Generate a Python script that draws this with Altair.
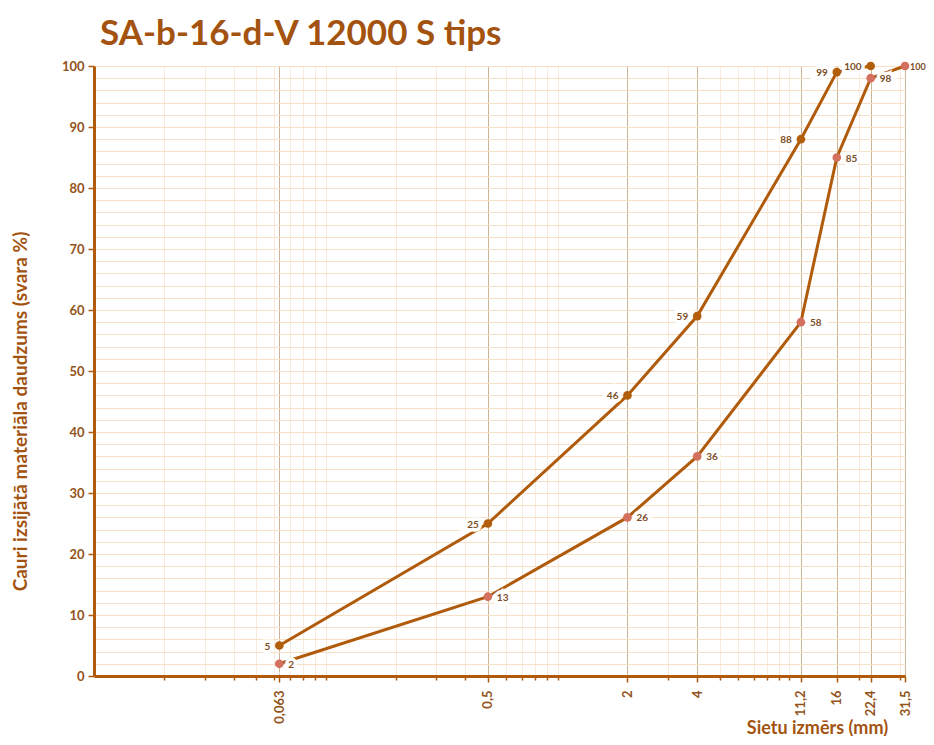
import altair as alt
import pandas as pd

# ---- data ----
sizes_a = [0.063, 0.5, 2, 4, 11.2, 16, 22.4]
vals_a = [5, 25, 46, 59, 88, 99, 100]
sizes_b = [0.063, 0.5, 2, 4, 11.2, 16, 22.4, 31.5]
vals_b = [2, 13, 26, 36, 58, 85, 98, 100]

major_x = [0.063, 0.5, 2, 4, 11.2, 16, 22.4, 31.5]
major_x_labels = ["0,063", "0,5", "2", "4", "11,2", "16", "22,4", "31,5"]
minor_x = [0.02, 0.03, 0.04, 0.05, 0.06, 0.07, 0.08, 0.09, 0.1,
           0.2, 0.3, 0.4, 0.6, 0.7, 0.8, 0.9, 1,
           3, 5, 6, 7, 8, 9, 10, 20, 30]
major_y = list(range(0, 101, 10))
minor_y = list(range(0, 101, 2))

title_text = "SA-b-16-d-V 12000 S tips"
x_title = "Sietu izmērs (mm)"
y_title = "Cauri izsijātā materiāla daudzums (svara %)"

# ---- tables ----
df_a = pd.DataFrame({"size": sizes_a, "val": vals_a, "series": "A"})
df_b = pd.DataFrame({"size": sizes_b, "val": vals_b, "series": "B"})
df_a["label"] = df_a["val"].astype(str)
df_b["label"] = df_b["val"].astype(str)
df = pd.concat([df_a, df_b], ignore_index=True)
df_b_main = df_b.iloc[:-1]
df_b_last = df_b.iloc[-1:]

FONT = "Lato"
LINE = "#B05A0C"
PT_A = "#B35E0A"
PT_B = "#D4705E"
LABEL = "#7C4E26"
AXIS_LBL = "#93531A"
TITLE_C = "#A3530F"

label_expr = "{" + ",".join(f"'{v}':'{l}'" for v, l in zip(major_x, major_x_labels)) + "}[datum.value]"

xs = alt.Scale(type="log", domain=[0.01, 31.5], nice=False)
ys = alt.Scale(domain=[0, 100], nice=False)

base = alt.Chart(df)

lines = base.mark_line(color=LINE, strokeWidth=3).encode(
    x=alt.X("size:Q", scale=xs,
            axis=alt.Axis(values=minor_x, labels=False, tickSize=4, tickWidth=1.5,
                          tickColor=LINE, grid=True, gridColor="#F7EBDD", gridWidth=1,
                          domain=False, title=None, orient="bottom")),
    y=alt.Y("val:Q", scale=ys,
            axis=alt.Axis(values=minor_y, labels=False, ticks=False, grid=True,
                          gridColor="#F8E0C6", gridWidth=1, domain=False,
                          title=None, orient="left")),
    detail="series:N",
)


def label_layer(data, side, color, halo, dx=9, size=10):
    kw = dict(align="right", dx=-dx) if side == "left" else dict(align="left", dx=dx)
    extra = dict(stroke="white", strokeWidth=7) if halo else {}
    return alt.Chart(data).mark_text(
        baseline="middle", dy=1, font=FONT, fontWeight="bold", fontSize=size,
        color=color, **kw, **extra
    ).encode(
        x=alt.X("size:Q", scale=xs, axis=None),
        y=alt.Y("val:Q", scale=ys, axis=None),
        text="label:N",
    )


halo_a = label_layer(df_a, "left", "white", True)
halo_b = label_layer(df_b_main, "right", "white", True)
halo_c = label_layer(df_b_last, "right", "white", True, dx=5, size=9)
text_a = label_layer(df_a, "left", LABEL, False)
text_b = label_layer(df_b_main, "right", LABEL, False)
text_c = label_layer(df_b_last, "right", LABEL, False, dx=5, size=9)

points = base.mark_circle(size=75, opacity=1).encode(
    x=alt.X("size:Q", scale=xs,
            axis=alt.Axis(values=major_x, labelExpr=label_expr, labelAngle=270,
                          labelAlign="right", labelBaseline="middle",
                          labelFont=FONT, labelFontWeight="bold", labelFontSize=13,
                          labelColor=AXIS_LBL, labelPadding=8,
                          tickSize=6, tickWidth=1.5, tickColor=LINE,
                          grid=True, gridColor="#CDB496", gridWidth=1,
                          domain=True, domainColor=LINE, domainWidth=3,
                          title=x_title, titleFont=FONT, titleFontWeight="bold",
                          titleFontSize=18, titleColor=TITLE_C,
                          titleX=723, titleY=52, titleAlign="center",
                          titleBaseline="middle", orient="bottom")),
    y=alt.Y("val:Q", scale=ys,
            axis=alt.Axis(values=major_y, labelFont=FONT, labelFontWeight="bold",
                          labelFontSize=13, labelColor=AXIS_LBL, labelPadding=4,
                          tickSize=6, tickWidth=1.5, tickColor=LINE,
                          grid=False, domain=True, domainColor=LINE, domainWidth=3,
                          title=y_title, titleFont=FONT, titleFontWeight="bold",
                          titleFontSize=19, titleColor=TITLE_C,
                          titleX=-74, titleY=345, titleAngle=270,
                          titleAlign="center", titleBaseline="middle",
                          orient="left")),
    color=alt.Color("series:N", scale=alt.Scale(domain=["A", "B"], range=[PT_A, PT_B]), legend=None),
)

chart = alt.layer(lines, halo_a, halo_b, halo_c, points, text_a, text_b, text_c).resolve_axis(
    x="independent", y="independent"
).properties(
    width=811, height=610,
    autosize=alt.AutoSizeParams(type="none"),
    padding={"left": 86, "top": 58, "right": 21, "bottom": 60},
    background="white",
    title=alt.TitleParams(title_text, anchor="start", frame="group", dx=6,
                          font=FONT, fontWeight="bold", fontSize=35,
                          color=TITLE_C, offset=8),
).configure_view(stroke=None)

chart.save("out.html", embed_options={"renderer": "svg", "actions": False})
